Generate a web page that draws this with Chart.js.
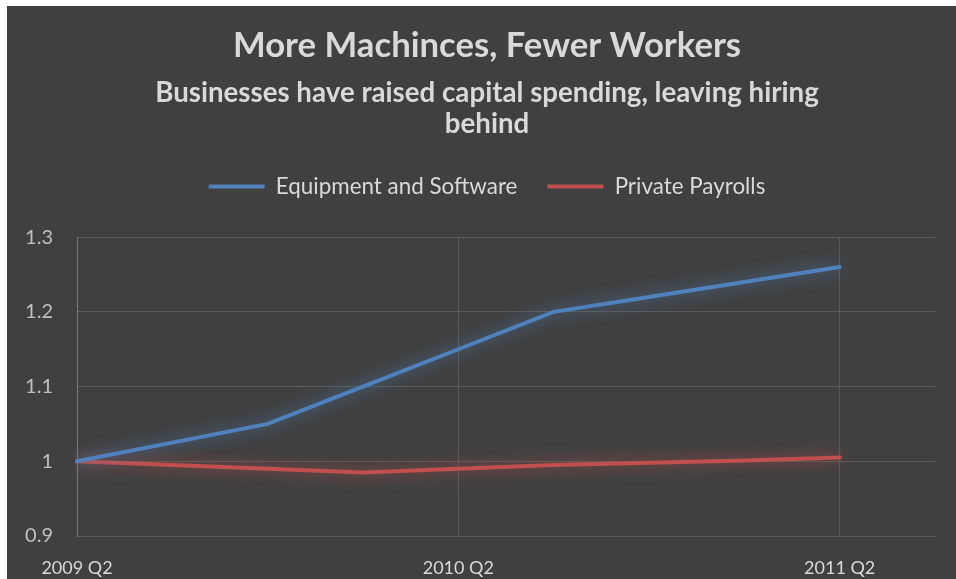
<!DOCTYPE html>
<html>
<head>
<meta charset="utf-8">
<script src="https://cdn.jsdelivr.net/npm/chart.js@4.4.1/dist/chart.umd.min.js"></script>
<style>
  html, body { margin: 0; padding: 0; background: #ffffff; }
  #marco {
    position: absolute; left: 7px; top: 6px;
    width: 949px; height: 573px;
    background: #404040;
  }
</style>
</head>
<body>
<div id="marco"><canvas id="grafica" width="949" height="573"></canvas></div>
<script>
// Trimestres del eje X (el último queda vacío, como margen)
const trimestres = ["2009 Q2", "2009 Q3", "2009 Q4", "2010 Q1", "2010 Q2",
                    "2010 Q3", "2010 Q4", "2011 Q1", "2011 Q2", "2011 Q3"];

// Índices (2009 Q2 = 1)
const equipoSoftware = [1.00, 1.025, 1.05, 1.10, 1.15, 1.20, 1.22, 1.24, 1.26, null];
const nominasPrivadas = [1.00, 0.995, 0.99, 0.985, 0.99, 0.995, 0.998, 1.001, 1.005, null];

const ticksY = [0.9, 1.0, 1.1, 1.2, 1.3];

const colorAzul = "#4F81BD";
const colorRojo = "#C0504D";
const fuente = "Lato, 'Open Sans', sans-serif";

// Resplandor suave alrededor de cada línea
const resplandor = {
  id: "resplandor",
  beforeDatasetDraw(chart, args) {
    const ctx = chart.ctx;
    ctx.save();
    ctx.shadowColor = args.meta.dataset.options.borderColor + "ee";
    ctx.shadowBlur = 16;
  },
  afterDatasetDraw(chart) {
    chart.ctx.restore();
  }
};

// Deja más aire entre la leyenda y el área de la gráfica
const espacioLeyenda = {
  id: "espacioLeyenda",
  beforeInit(chart) {
    const fitOriginal = chart.legend.fit;
    chart.legend.fit = function() {
      fitOriginal.call(this);
      this.height += 29.6;
    };
  }
};

new Chart(document.getElementById("grafica"), {
  type: "line",
  data: {
    labels: trimestres,
    datasets: [
      {
        label: "Equipment and Software",
        data: equipoSoftware,
        borderColor: colorAzul,
        backgroundColor: colorAzul,
        borderWidth: 4,
        borderCapStyle: "round",
        pointRadius: 0,
        tension: 0
      },
      {
        label: "Private Payrolls",
        data: nominasPrivadas,
        borderColor: colorRojo,
        backgroundColor: colorRojo,
        borderWidth: 4,
        borderCapStyle: "round",
        pointRadius: 0,
        tension: 0
      }
    ]
  },
  options: {
    responsive: false,
    animation: false,
    layout: { padding: { left: 11, right: 0, top: 0, bottom: 0 } },
    plugins: {
      title: {
        display: true,
        text: "More Machinces, Fewer Workers",
        color: "#d9d9d9",
        font: { family: fuente, size: 34.7, weight: "bold", lineHeight: 1.2 },
        padding: { top: 19, bottom: 10.5 }
      },
      subtitle: {
        display: true,
        text: ["Businesses have raised capital spending, leaving hiring", "behind"],
        color: "#d9d9d9",
        font: { family: fuente, size: 27.7, weight: "bold", lineHeight: 1.12 },
        padding: { top: 0, bottom: 6 }
      },
      legend: {
        position: "top",
        labels: {
          color: "#d9d9d9",
          font: { family: fuente, size: 22.4 },
          usePointStyle: true,
          pointStyle: "line",
          pointStyleWidth: 56,
          padding: 30
        }
      },
      tooltip: { enabled: false }
    },
    scales: {
      x: {
        afterFit: function(eje) { eje.height = 43; },
        ticks: {
          color: "#d9d9d9",
          font: { family: fuente, size: 18 },
          maxRotation: 0,
          autoSkip: false,
          padding: 21,
          callback: function(valor, i) {
            return i % 4 === 0 ? trimestres[i] : "";
          }
        },
        grid: {
          drawTicks: false,
          color: function(ctx) {
            return (ctx.index === 4 || ctx.index === 8) ? "#5a5a5a" : "rgba(0,0,0,0)";
          }
        },
        border: { color: "#5a5a5a" }
      },
      y: {
        min: 0.9,
        max: 1.3,
        afterFit: function(eje) { eje.width = 59; },
        afterBuildTicks: function(eje) {
          eje.ticks = ticksY.map(v => ({ value: v }));
        },
        ticks: {
          color: "#bfbfbf",
          font: { family: fuente, size: 20 },
          padding: 24,
          callback: function(v) {
            return Math.abs(v - 1) < 1e-9 ? "1" : v.toFixed(1);
          }
        },
        grid: { drawTicks: false, color: "#5a5a5a" },
        border: { color: "#7a7a7a" }
      },
      // margen derecho vacío
      margen: {
        type: "linear",
        position: "right",
        afterFit: function(eje) { eje.width = 18; },
        ticks: { display: false },
        grid: { display: false },
        border: { display: false }
      }
    }
  },
  plugins: [resplandor, espacioLeyenda]
});
</script>
</body>
</html>
